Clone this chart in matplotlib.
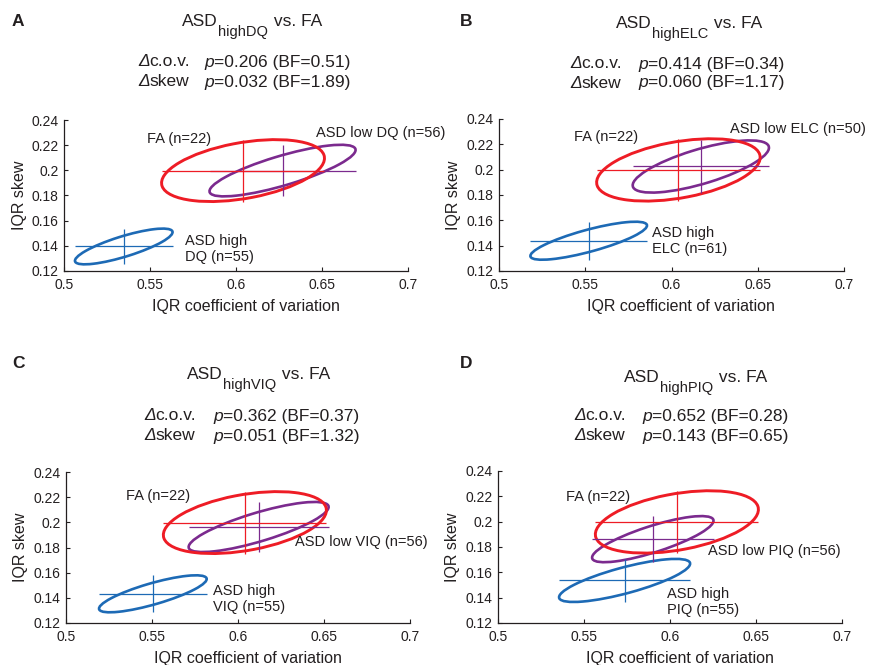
"""
Covariance ellipses of IQR coefficient of variation vs IQR skew,
ASD subgroups against FA (four panels A-D).
"""
import matplotlib
matplotlib.use("Agg")
import matplotlib.pyplot as plt
import numpy as np
from matplotlib.patches import Ellipse

plt.rcParams["font.family"] = ["Liberation Sans", "DejaVu Sans"]

W, H = 869, 665
TXT = "#231f20"
RED, PURPLE, BLUE = "#ee1c25", "#7b2a8e", "#1d6ab5"

# ── values ───────────────────────────────────────────────────────────────────
panel_letters = ["A", "B", "C", "D"]
subgroups = ["highDQ", "highELC", "highVIQ", "highPIQ"]
p_cov = ["0.206", "0.414", "0.362", "0.652"]
bf_cov = ["0.51", "0.34", "0.37", "0.28"]
p_skew = ["0.032", "0.060", "0.051", "0.143"]
bf_skew = ["1.89", "1.17", "1.32", "0.65"]

# FA group is the same in every panel
fa_label = "FA (n=22)"
fa_mean_x, fa_mean_y = 0.604, 0.1998
fa_sd_x, fa_sd_y = 0.0474, 0.0246
fa_rho = 0.40

low_labels = ["ASD low DQ (n=56)", "ASD low ELC (n=50)",
              "ASD low VIQ (n=56)", "ASD low PIQ (n=56)"]
low_mean_x = [0.627, 0.617, 0.612, 0.590]
low_mean_y = [0.1998, 0.2025, 0.1963, 0.1862]
low_sd_x = [0.0425, 0.0395, 0.0407, 0.0353]
low_sd_y = [0.0205, 0.0206, 0.0199, 0.0182]
low_rho = [0.80, 0.72, 0.80, 0.80]

high_labels = ["ASD high\nDQ (n=55)", "ASD high\nELC (n=61)",
               "ASD high\nVIQ (n=55)", "ASD high\nPIQ (n=55)"]
high_mean_x = [0.5346, 0.552, 0.5505, 0.5736]
high_mean_y = [0.1395, 0.1439, 0.1432, 0.1536]
high_sd_x = [0.0284, 0.0338, 0.0313, 0.0381]
high_sd_y = [0.0142, 0.0150, 0.0147, 0.0170]
high_rho = [0.80, 0.80, 0.80, 0.78]

x_ticks = [0.5, 0.55, 0.6, 0.65, 0.7]
x_ticklabels = ["0.5", "0.55", "0.6", "0.65", "0.7"]
y_ticks = [0.12, 0.14, 0.16, 0.18, 0.20, 0.22, 0.24]
y_ticklabels = ["0.12", "0.14", "0.16", "0.18", "0.2", "0.22", "0.24"]

# ── layout (pixels of the 869x665 figure) ────────────────────────────────────
axes_px = [(64.3, 120, 343.7, 151), (499, 119, 345, 152),
           (66, 472, 344, 151), (498, 471, 344, 152)]
letter_px = [(12, 22), (460, 22), (12, 363), (460, 363)]
title_px = [(182, 21.5), (616, 23.5), (187, 374.5), (624, 377.5)]
stats_px = [(138, 204, 62, 82), (570, 638, 64, 83),
            (144, 213, 416, 436), (574, 642, 416, 436)]
fa_label_xy = [(0.5483, 0.2246), (0.5435, 0.2255), (0.5349, 0.2207), (0.5395, 0.2197)]
low_label_xy = [(0.6467, 0.2299), (0.6338, 0.2323), (0.6331, 0.1844), (0.6222, 0.1770)]
high_label_xy = [(0.5702, 0.1375), (0.5889, 0.1435), (0.5857, 0.1391), (0.5983, 0.1366)]


def fig_xy(x, y):
    return x / W, 1 - y / H


def cov_ellipse(ax, mx, my, sx, sy, rho, color, lw):
    """Ellipse whose bounding box is mean +/- sd, plus the crosshair."""
    cov = np.array([[sx * sx, rho * sx * sy], [rho * sx * sy, sy * sy]])
    vals, vecs = np.linalg.eigh(cov)
    ang = np.degrees(np.arctan2(vecs[1, 1], vecs[0, 1]))
    ax.add_patch(Ellipse((mx, my), 2 * np.sqrt(vals[1]), 2 * np.sqrt(vals[0]),
                         angle=ang, fill=False, ec=color, lw=lw))
    ax.hlines(my, mx - sx, mx + sx, color=color, lw=0.9)
    ax.vlines(mx, my - sy, my + sy, color=color, lw=0.9)


def write_runs(ax, x, y, runs, size):
    """Left-aligned text made of (string, fontstyle) pieces on one line."""
    t = ax.text(x, y, runs[0][0], transform=ax.figure.transFigure, fontsize=size,
                fontstyle=runs[0][1], ha="left", va="center", color=TXT)
    for s, style in runs[1:]:
        t = ax.annotate(s, xy=(1, 0), xycoords=t, ha="left", va="bottom",
                        fontsize=size, fontstyle=style, color=TXT,
                        annotation_clip=False)
    return t


fig = plt.figure(figsize=(W / 100, H / 100), dpi=100)

for i in range(4):
    x0, y0, w, h = axes_px[i]
    ax = fig.add_axes([x0 / W, 1 - (y0 + h) / H, w / W, h / H])

    cov_ellipse(ax, high_mean_x[i], high_mean_y[i], high_sd_x[i], high_sd_y[i],
                high_rho[i], BLUE, 1.9)
    cov_ellipse(ax, low_mean_x[i], low_mean_y[i], low_sd_x[i], low_sd_y[i],
                low_rho[i], PURPLE, 1.9)
    cov_ellipse(ax, fa_mean_x, fa_mean_y, fa_sd_x, fa_sd_y, fa_rho, RED, 2.1)

    for txt, (lx, ly) in [(fa_label, fa_label_xy[i]), (low_labels[i], low_label_xy[i]),
                          (high_labels[i], high_label_xy[i])]:
        ax.text(lx, ly, txt, fontsize=10.5, color=TXT, ha="left", va="center",
                linespacing=1.15, clip_on=False)

    ax.set_xlim(0.5, 0.7)
    ax.set_ylim(0.12, 0.24)
    ax.set_xticks(x_ticks, x_ticklabels)
    ax.set_yticks(y_ticks, y_ticklabels)
    ax.tick_params(direction="in", length=3, width=0.8, labelsize=10,
                   colors=TXT, labelcolor=TXT)
    ax.tick_params(axis="x", pad=5)
    ax.tick_params(axis="y", pad=4)
    for side in ("top", "right"):
        ax.spines[side].set_visible(False)
    for side in ("left", "bottom"):
        ax.spines[side].set_linewidth(0.9)
        ax.spines[side].set_color(TXT)

    ax.set_xlabel("IQR coefficient of variation", fontsize=11.5, color=TXT, va="center")
    ax.xaxis.set_label_coords(0.5275, -35 / h)
    ax.set_ylabel("IQR skew", fontsize=11.5, color=TXT, va="center")
    ax.yaxis.set_label_coords(-45.3 / w, 0.5)

    # panel letter
    fig.text(*fig_xy(*letter_px[i]), panel_letters[i], fontsize=12.5,
             fontweight="bold", ha="left", va="center", color=TXT)

    # title: ASD_{sub} vs. FA
    tx, ty = fig_xy(*title_px[i])
    t_asd = ax.text(tx, ty, "ASD", transform=fig.transFigure, fontsize=12.5,
                    ha="left", va="center", color=TXT)
    t_sub = ax.annotate(subgroups[i], xy=(1, 0), xycoords=t_asd,
                        xytext=(0, 3), textcoords="offset points",
                        ha="left", va="top", fontsize=10.5, color=TXT,
                        annotation_clip=False)
    ax.annotate(" vs. FA", xy=(1, 0), xycoords=(t_sub, t_asd),
                xytext=(1, 0), textcoords="offset points",
                ha="left", va="bottom", fontsize=12.5, color=TXT,
                annotation_clip=False)

    # statistics block
    dx, px_, y1, y2 = stats_px[i]
    write_runs(ax, *fig_xy(dx, y1), [("Δ", "italic"), ("c.o.v.", "normal")], 12.5)
    write_runs(ax, *fig_xy(dx, y2), [("Δ", "italic"), ("skew", "normal")], 12.5)
    write_runs(ax, *fig_xy(px_, y1),
               [("p", "italic"), (f"={p_cov[i]} (BF={bf_cov[i]})", "normal")], 12.5)
    write_runs(ax, *fig_xy(px_, y2),
               [("p", "italic"), (f"={p_skew[i]} (BF={bf_skew[i]})", "normal")], 12.5)

fig.savefig("out.png", dpi=100)
